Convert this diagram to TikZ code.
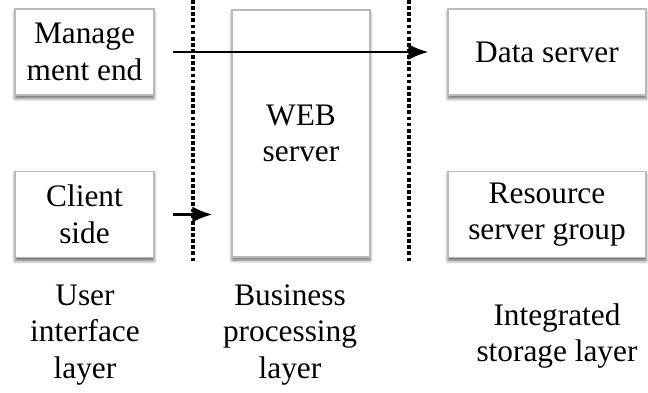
\documentclass[tikz,border=0pt]{standalone}
\usepackage{fontspec}
\setmainfont{Liberation Serif}
\usetikzlibrary{arrows.meta,shadows.blur}

\begin{document}
\begin{tikzpicture}[x=0.75pt,y=-0.75pt,
  box/.style={draw=gray!55, line width=1.4pt, fill=white, align=center, inner sep=0pt,
    blur shadow={shadow xshift=0pt, shadow yshift=-2.5pt, shadow blur radius=2.5pt, shadow opacity=60},
    font=\fontsize{23.5}{27.5}\selectfont},
  small/.style={box, minimum width=104pt, minimum height=64.5pt},
  wide/.style={box, minimum width=148.5pt, minimum height=64.5pt},
  flow/.style={line width=1.9pt, -{Latex[length=15pt,width=12pt]}, shorten <=14pt, shorten >=14pt},
  divider/.style={line width=2.8pt, dash pattern=on 2.8pt off 1.8pt},
  layer/.style={align=center, font=\fontsize{23.5}{27.5}\selectfont}]
  \useasboundingbox (0,0) rectangle (648,392);

  % layer boundaries
  \coordinate (d1) at (193,0);
  \coordinate (d1end) at (193,262);
  \coordinate (d2) at (409,0);
  \coordinate (d2end) at (409,262);
  \draw[divider] (d1) -- (d1end);
  \draw[divider] (d2) -- (d2end);

  % boxes
  \node[small] (mgmt) at (84.5,52) {Manage\\ment end};
  \node[small] (client) at (84.5,214.5) {Client\\side};
  \node[box, minimum width=103.5pt, minimum height=185pt] (web) at (301,133.5) {WEB\\server};
  \node[wide] (data) at (547,52) {Data server};
  \node[wide] (res) at (547,214.5) {Resource\\server group};

  % requests
  \draw[flow] (mgmt.east) -- (data.west);
  \draw[flow] (client.east) -- (web.west |- client.east);

  % layer names
  \node[layer] (ui) at (85,335) {User\\interface\\layer};
  \node[layer] (bp) at (290,335) {Business\\processing\\layer};
  \node[layer] (is) at (557,336) {Integrated\\storage layer};
\end{tikzpicture}
\end{document}
